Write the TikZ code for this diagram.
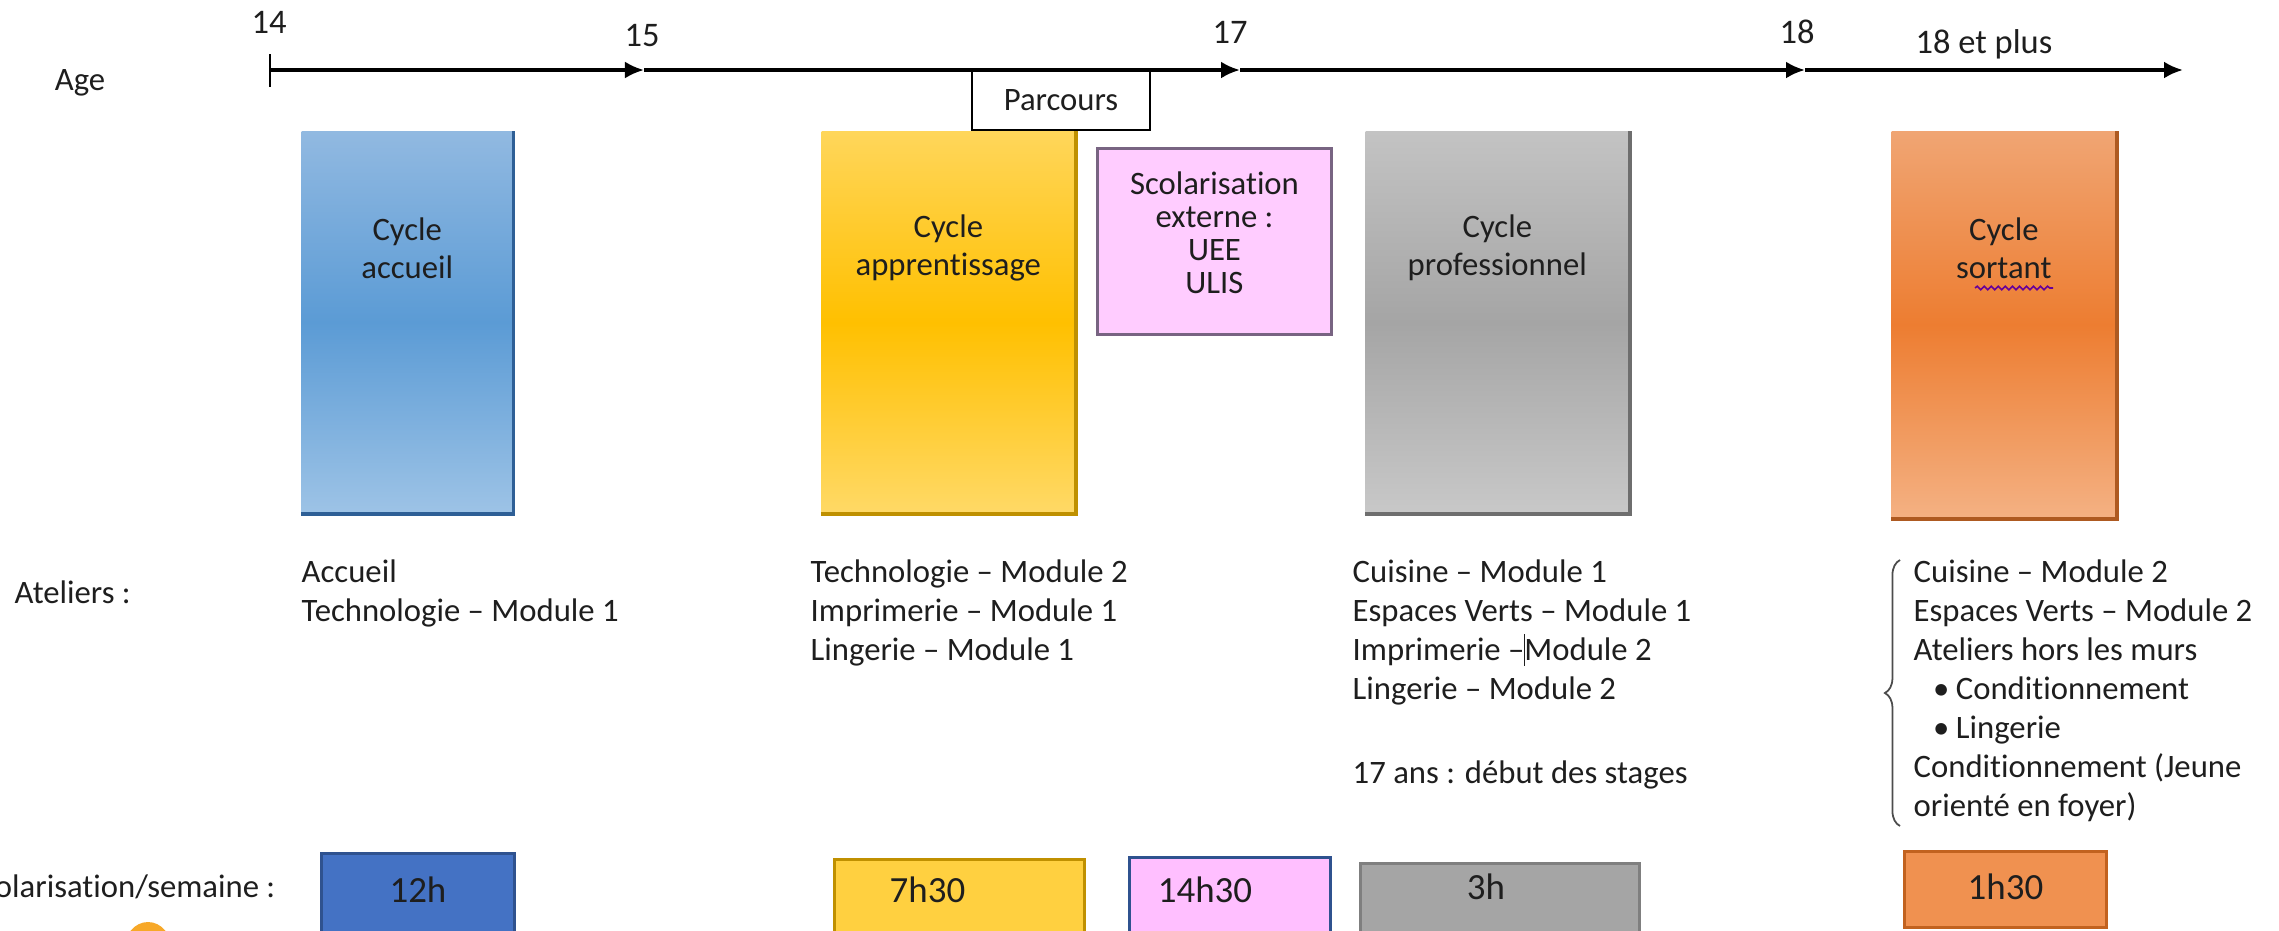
\documentclass[tikz,border=0pt]{standalone}
\usepackage{fontspec}
\setmainfont{Carlito}[Ligatures=NoCommon]
\usetikzlibrary{arrows.meta,positioning,decorations.pathreplacing,decorations.pathmorphing}

\definecolor{bleuHaut}{RGB}{145,185,225}
\definecolor{bleuMil}{RGB}{91,155,213}
\definecolor{bleuBas}{RGB}{157,195,230}
\definecolor{bleuOmbre}{RGB}{46,95,150}
\definecolor{jauneHaut}{RGB}{255,214,90}
\definecolor{jauneMil}{RGB}{255,192,0}
\definecolor{jauneBas}{RGB}{255,217,102}
\definecolor{jauneOmbre}{RGB}{191,144,0}
\definecolor{grisHaut}{RGB}{195,195,195}
\definecolor{grisMil}{RGB}{165,165,165}
\definecolor{grisBas}{RGB}{200,200,200}
\definecolor{grisOmbre}{RGB}{110,110,110}
\definecolor{orangeHaut}{RGB}{240,165,115}
\definecolor{orangeMil}{RGB}{237,125,49}
\definecolor{orangeBas}{RGB}{244,177,131}
\definecolor{orangeOmbre}{RGB}{174,90,33}
\definecolor{rose}{RGB}{255,204,255}
\definecolor{roseBord}{RGB}{120,100,130}
\definecolor{roseVif}{RGB}{255,191,255}
\definecolor{bleuFonce}{RGB}{68,114,196}
\definecolor{bleuBord}{RGB}{47,82,143}
\definecolor{or}{RGB}{255,208,64}
\definecolor{orBord}{RGB}{192,144,0}
\definecolor{gris}{RGB}{165,165,165}
\definecolor{grisBord}{RGB}{127,127,127}
\definecolor{orange}{RGB}{240,145,80}
\definecolor{orangeBord}{RGB}{194,98,31}
\definecolor{tache}{RGB}{247,168,40}
\definecolor{texte}{RGB}{30,30,30}

\begin{document}
\begin{tikzpicture}[
    x=0.01cm, y=-0.01cm,
    every node/.style={inner sep=0pt, text=texte, font=\fontsize{9.3}{11.1}\selectfont},
    axe/.style={line width=1pt, -{Latex[length=1.9mm, width=1.7mm]}},
    barre/.style={minimum width=#1, minimum height=3.81cm, anchor=north west},
    ombre/.style={line width=1.1pt},
    cycle/.style={align=center, font=\fontsize{9.3}{10.8}\selectfont},
    liste/.style={align=left, anchor=north west},
    heure/.style={line width=0.8pt, minimum width=#1, minimum height=1.2cm, anchor=north west},
    chiffre/.style={font=\fontsize{10.5}{12}\selectfont}
]
    \useasboundingbox (0,0) rectangle (2279,930);
    \clip (0,0) rectangle (2279,930);

    \node (age) at (80,83) {Age};
    \coordinate (a14) at (270,70);
    \coordinate (a15) at (644,70);
    \coordinate (a17) at (1240,70);
    \coordinate (a18) at (1805,70);
    \coordinate (afin) at (2183,70);
    \draw[line width=0.8pt] (270,54) -- (270,87);
    \draw[axe] (a14) -- (a15);
    \draw[axe] (a15) -- (a17);
    \draw[axe] (a17) -- (a18);
    \draw[axe] (a18) -- (afin);
    \node[font=\fontsize{9.8}{11}\selectfont] (l14) at (269,22) {14};
    \node[font=\fontsize{9.8}{11}\selectfont] (l15) at (642,36) {15};
    \node[font=\fontsize{9.8}{11}\selectfont] (l17) at (1230,32) {17};
    \node[font=\fontsize{9.8}{11}\selectfont] (l18) at (1797,32) {18};
    \node[font=\fontsize{9.8}{11}\selectfont] (lplus) at (1984,44) {18 et plus};
    \node[draw, line width=0.6pt, fill=white, minimum width=1.78cm, minimum height=0.59cm, anchor=north] (parcours) at (1061,70) {Parcours};

    \node[barre=2.11cm, top color=bleuHaut, bottom color=bleuBas, middle color=bleuMil] (accueil) at (301,131) {};
    \draw[ombre, bleuOmbre] (accueil.north east) -- (accueil.south east) -- (accueil.south west);
    \node[cycle] (taccueil) at ([yshift=-1.17cm]accueil.north) {Cycle\\accueil};

    \node[barre=2.53cm, top color=jauneHaut, bottom color=jauneBas, middle color=jauneMil] (apprent) at (821,131) {};
    \draw[ombre, jauneOmbre] (apprent.north east) -- (apprent.south east) -- (apprent.south west);
    \node[cycle] (tapprent) at ([yshift=-1.17cm]apprent.north) {Cycle\\apprentissage};

    \node[draw=roseBord, line width=0.8pt, fill=rose, minimum width=2.34cm, minimum height=1.86cm, anchor=north west] (externe) at (1096,147) {};
    \node[align=center, font=\fontsize{9.3}{9.4}\selectfont] (texterne) at ([yshift=-0.86cm]externe.north) {Scolarisation\\externe :\\UEE\\ULIS};

    \node[barre=2.63cm, top color=grisHaut, bottom color=grisBas, middle color=grisMil] (pro) at (1365,131) {};
    \draw[ombre, grisOmbre] (pro.north east) -- (pro.south east) -- (pro.south west);
    \node[cycle] (tpro) at ([yshift=-1.17cm]pro.north) {Cycle\\professionnel};

    \node[barre=2.24cm, minimum height=3.86cm, top color=orangeHaut, bottom color=orangeBas, middle color=orangeMil] (sortant) at (1891,131) {};
    \draw[ombre, orangeOmbre] (sortant.north east) -- (sortant.south east) -- (sortant.south west);
    \node[cycle] (tsortant) at ([yshift=-1.17cm]sortant.north) {Cycle\\sortant};
    \draw[violet!80!blue, line width=0.45pt, decorate, decoration={snake, amplitude=0.5pt, segment length=2pt}] (1975,288) -- (2053,288);

    \node[anchor=west] (ateliers) at (14,592) {Ateliers :};
    \node[liste] (lacc) at (301,559) {Accueil\\Technologie -- Module 1};
    \node[liste] (lapp) at (810,559) {Technologie -- Module 2\\Imprimerie -- Module 1\\Lingerie -- Module 1};
    \node[liste] (lpro) at (1352,559) {Cuisine -- Module 1\\Espaces Verts -- Module 1\\Imprimerie --\makebox[0pt]{\rule[-1.5pt]{0.5pt}{9pt}}Module 2\\Lingerie -- Module 2};
    \node[anchor=west] (stages) at (1352,775) {17 ans : début des stages};
    \node[liste] (lsor) at (1913,559) {Cuisine -- Module 2\\Espaces Verts -- Module 2\\Ateliers hors les murs\\\hspace*{5.5pt}\makebox[6.5pt][l]{\textbullet}Conditionnement\\\hspace*{5.5pt}\makebox[6.5pt][l]{\textbullet}Lingerie\\Conditionnement (Jeune\\orienté en foyer)};
    \draw[black!70, line width=0.5pt, decorate, decoration={brace, amplitude=4.3pt}] (1900,826) -- (1900,560);

    \node[anchor=east] (scol) at (276,887) {Scolarisation/semaine :};
    \node[heure=1.93cm, fill=bleuFonce, draw=bleuBord] (h12) at (320,852) {};
    \node[chiffre] (t12) at ([yshift=-0.38cm]h12.north) {12h};
    \node[heure=2.50cm, fill=or, draw=orBord] (h7) at (833,858) {};
    \node[chiffre] (t7) at ([xshift=-0.32cm, yshift=-0.32cm]h7.north) {7h30};
    \node[heure=2.01cm, fill=roseVif, draw=bleuBord] (h14) at (1128,856) {};
    \node[chiffre] (t14) at ([xshift=-0.25cm, yshift=-0.34cm]h14.north) {14h30};
    \node[heure=2.79cm, fill=gris, draw=grisBord] (h3) at (1359,862) {};
    \node[chiffre] (t3) at ([xshift=-0.14cm, yshift=-0.25cm]h3.north) {3h};
    \node[heure=2.02cm, minimum height=0.76cm, fill=orange, draw=orangeBord] (h1) at (1903,850) {};
    \node[chiffre] (t1) at ([yshift=-0.37cm]h1.north) {1h30};

    \fill[tache] (148,950) ellipse (24 and 28);
\end{tikzpicture}
\end{document}
